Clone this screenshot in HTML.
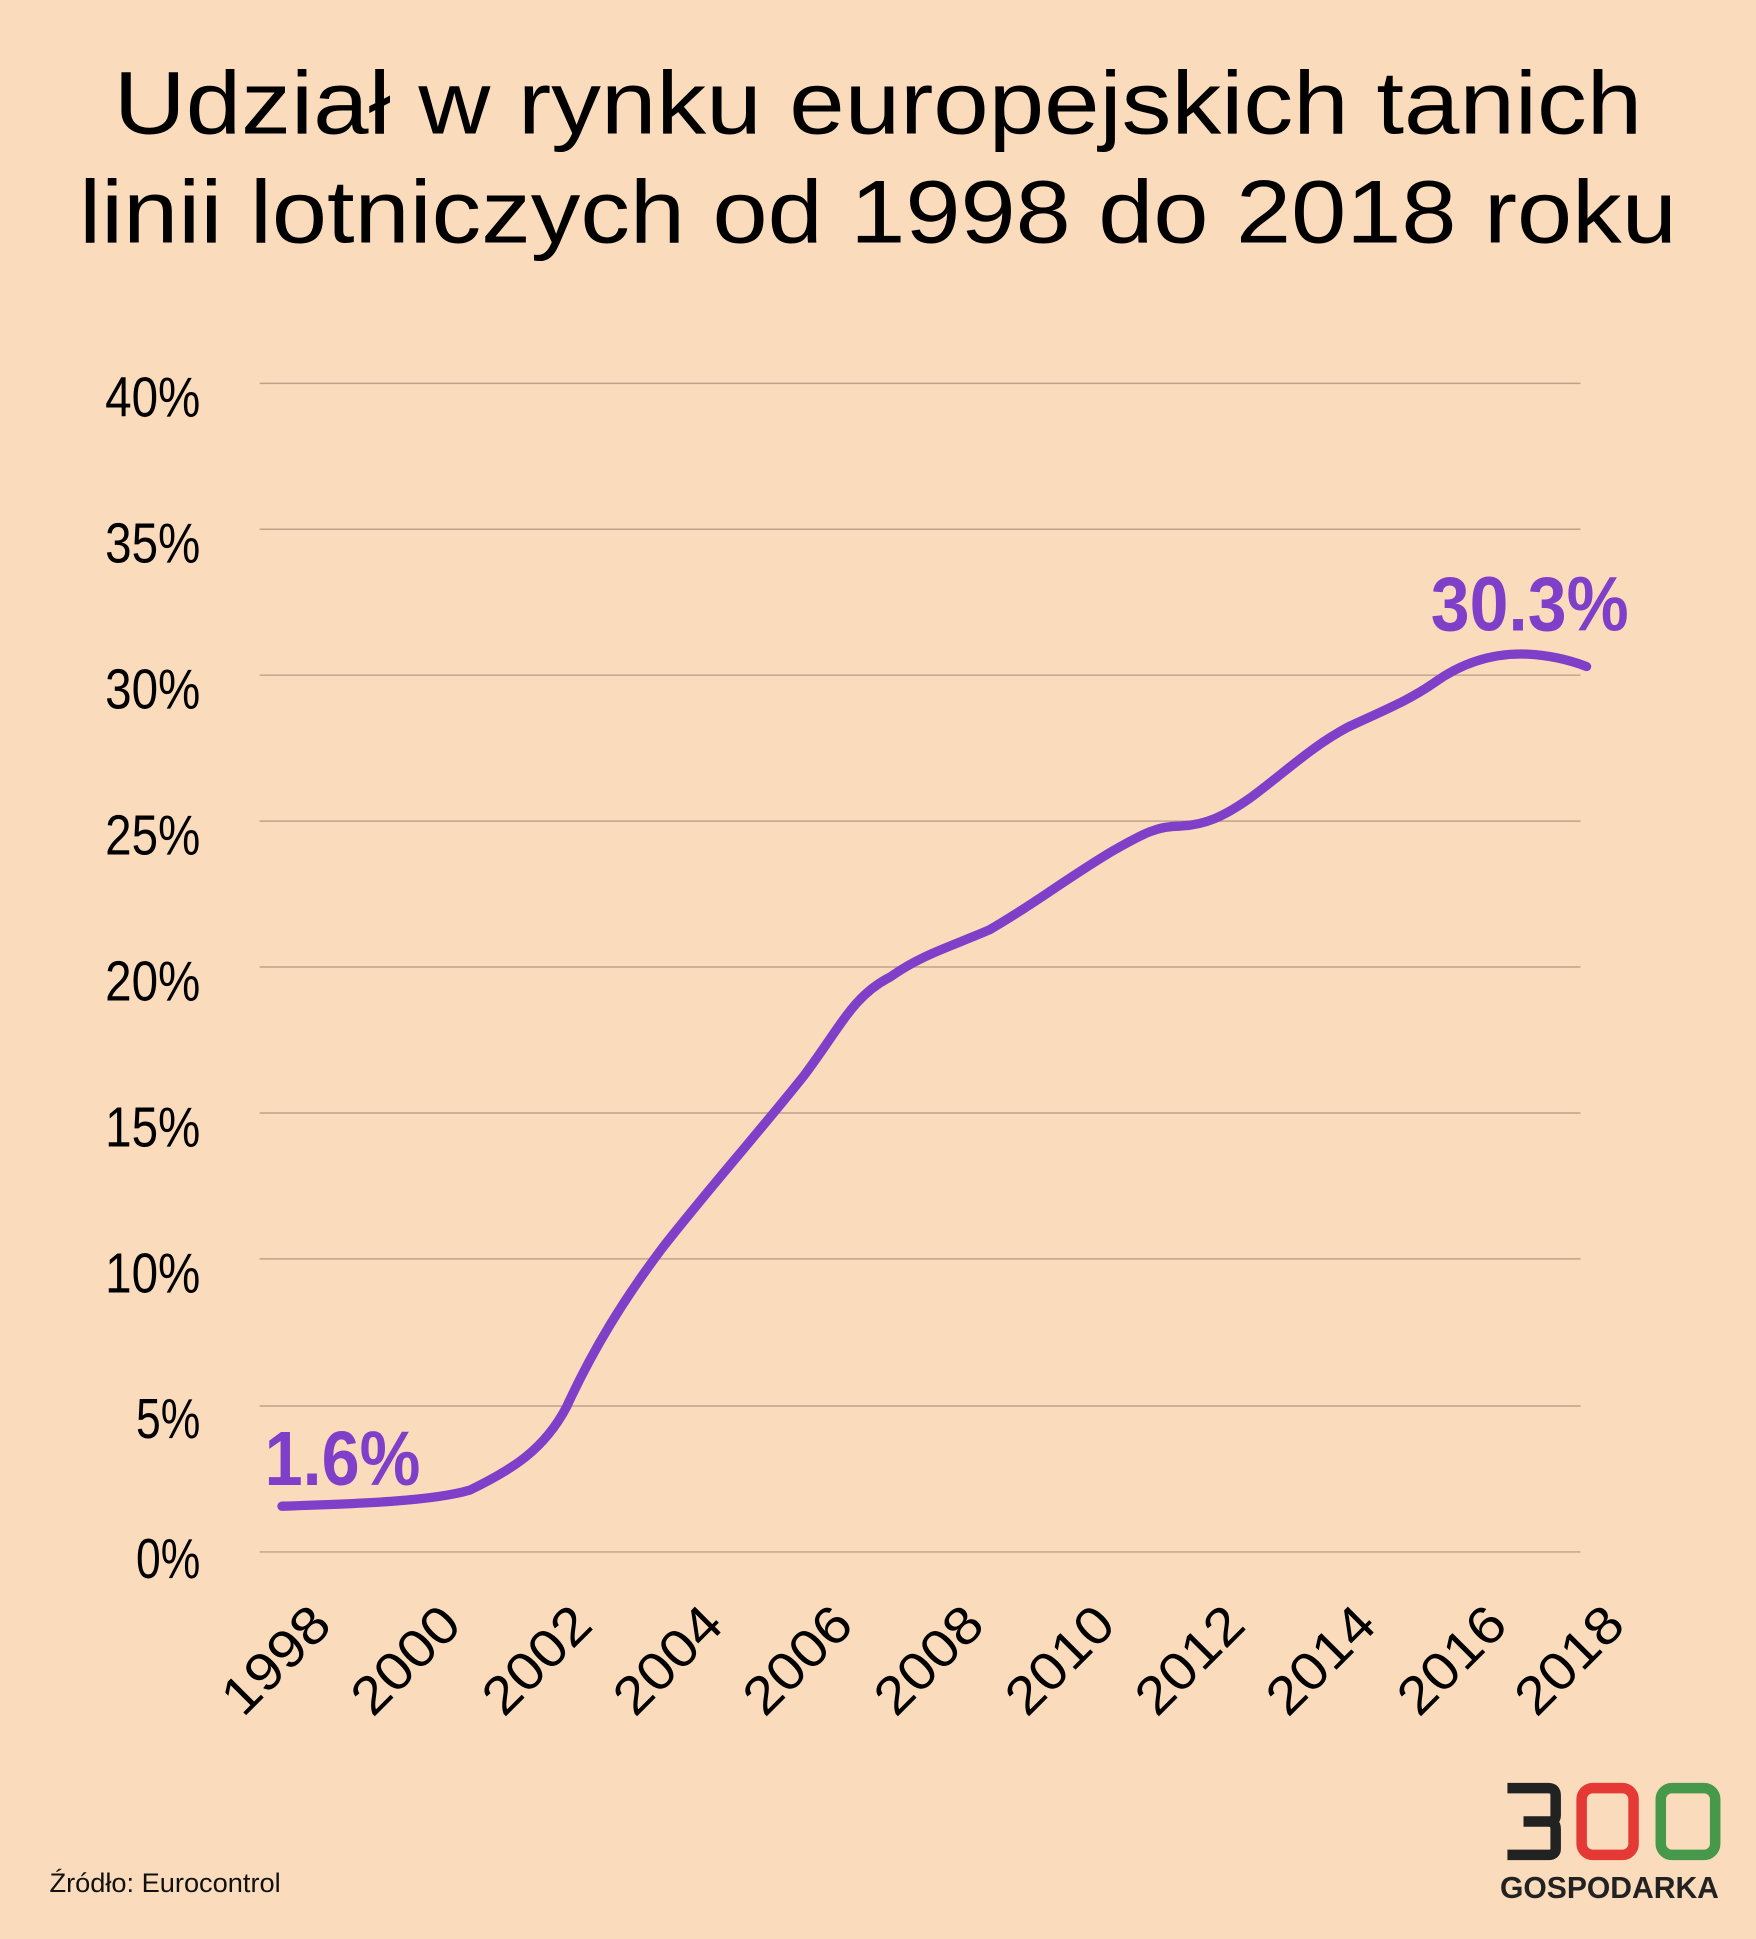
<!DOCTYPE html>
<html><head><meta charset="utf-8"><style>
html,body{margin:0;padding:0;background:#FADBBC;}
svg{display:block;}
</style></head><body>
<svg width="1756" height="1939" viewBox="0 0 1420 1568" xmlns="http://www.w3.org/2000/svg">
<rect width="1420" height="1568" fill="#FADBBC"/>
<g font-family="Liberation Sans, sans-serif" fill="#000" font-size="72">
<text x="92" y="108" textLength="1236" lengthAdjust="spacingAndGlyphs">Udział w rynku europejskich tanich</text>
<text x="64" y="196" textLength="1292" lengthAdjust="spacingAndGlyphs">linii lotniczych od 1998 do 2018 roku</text>
</g>
<g stroke="#BCA38A" stroke-width="1.2">
<line x1="210" y1="310" x2="1278" y2="310"/>
<line x1="210" y1="428" x2="1278" y2="428"/>
<line x1="210" y1="546" x2="1278" y2="546"/>
<line x1="210" y1="664" x2="1278" y2="664"/>
<line x1="210" y1="782" x2="1278" y2="782"/>
<line x1="210" y1="900" x2="1278" y2="900"/>
<line x1="210" y1="1018" x2="1278" y2="1018"/>
<line x1="210" y1="1137" x2="1278" y2="1137"/>
<line x1="210" y1="1255" x2="1278" y2="1255"/>
</g>
<g font-family="Liberation Sans, sans-serif" font-size="46" text-anchor="end" fill="#000">
<text x="162" y="337" textLength="77" lengthAdjust="spacingAndGlyphs">40%</text>
<text x="162" y="455" textLength="77" lengthAdjust="spacingAndGlyphs">35%</text>
<text x="162" y="573" textLength="77" lengthAdjust="spacingAndGlyphs">30%</text>
<text x="162" y="691" textLength="77" lengthAdjust="spacingAndGlyphs">25%</text>
<text x="162" y="809" textLength="77" lengthAdjust="spacingAndGlyphs">20%</text>
<text x="162" y="927" textLength="77" lengthAdjust="spacingAndGlyphs">15%</text>
<text x="162" y="1045" textLength="77" lengthAdjust="spacingAndGlyphs">10%</text>
<text x="162" y="1163" textLength="52" lengthAdjust="spacingAndGlyphs">5%</text>
<text x="162" y="1276" textLength="52" lengthAdjust="spacingAndGlyphs">0%</text>
</g>
<g font-family="Liberation Sans, sans-serif" font-size="43" text-anchor="end" fill="#000">
<text transform="translate(270,1316) rotate(-45)" textLength="104" lengthAdjust="spacingAndGlyphs">1998</text>
<text transform="translate(375,1316) rotate(-45)" textLength="104" lengthAdjust="spacingAndGlyphs">2000</text>
<text transform="translate(481,1316) rotate(-45)" textLength="104" lengthAdjust="spacingAndGlyphs">2002</text>
<text transform="translate(587,1316) rotate(-45)" textLength="104" lengthAdjust="spacingAndGlyphs">2004</text>
<text transform="translate(692,1316) rotate(-45)" textLength="104" lengthAdjust="spacingAndGlyphs">2006</text>
<text transform="translate(798,1316) rotate(-45)" textLength="104" lengthAdjust="spacingAndGlyphs">2008</text>
<text transform="translate(904,1316) rotate(-45)" textLength="104" lengthAdjust="spacingAndGlyphs">2010</text>
<text transform="translate(1009,1316) rotate(-45)" textLength="104" lengthAdjust="spacingAndGlyphs">2012</text>
<text transform="translate(1115,1316) rotate(-45)" textLength="104" lengthAdjust="spacingAndGlyphs">2014</text>
<text transform="translate(1221,1316) rotate(-45)" textLength="104" lengthAdjust="spacingAndGlyphs">2016</text>
<text transform="translate(1316,1316) rotate(-45)" textLength="104" lengthAdjust="spacingAndGlyphs">2018</text>
</g>
<path d="M228,1218 C290,1216 350,1214 380,1205 C415,1188 440,1172 458,1138 C480,1090 505,1050 535,1010 C570,965 610,920 650,870 C680,830 690,805 720,790 C745,772 770,765 800,752 C835,732 860,712 900,688 C925,674 935,668 955,668 C975,667 990,660 1010,646 C1040,624 1060,604 1090,588 C1120,574 1140,566 1160,552 C1185,534 1210,528 1235,529 C1255,530 1270,534 1283,539" fill="none" stroke="#7F3FC8" stroke-width="7.5" stroke-linecap="round" stroke-linejoin="round"/>
<g font-family="Liberation Sans, sans-serif" font-weight="bold" fill="#7F3FC8" font-size="62">
<text x="214" y="1201" textLength="126" lengthAdjust="spacingAndGlyphs">1.6%</text>
<text x="1157" y="510" textLength="160" lengthAdjust="spacingAndGlyphs">30.3%</text>
</g>
<text x="40" y="1530" font-family="Liberation Sans, sans-serif" font-size="22" fill="#111">Źródło: Eurocontrol</text>
<g fill="none" stroke-width="8.5" stroke-linejoin="round">
<path d="M1219,1446 H1252 Q1258,1446 1258,1452 V1468 Q1258,1473 1252,1473 H1232 M1252,1473 Q1258,1473 1258,1479 V1495 Q1258,1500 1252,1500 H1219" stroke="#222"/>
<rect x="1279" y="1446" width="42" height="54" rx="9" stroke="#E53935"/>
<rect x="1343" y="1446" width="44" height="54" rx="9" stroke="#46994A"/>
</g>
<text x="1213" y="1535" font-family="Liberation Sans, sans-serif" font-weight="bold" font-size="25" fill="#222" textLength="177" lengthAdjust="spacingAndGlyphs">GOSPODARKA</text>
</svg>
</body></html>
